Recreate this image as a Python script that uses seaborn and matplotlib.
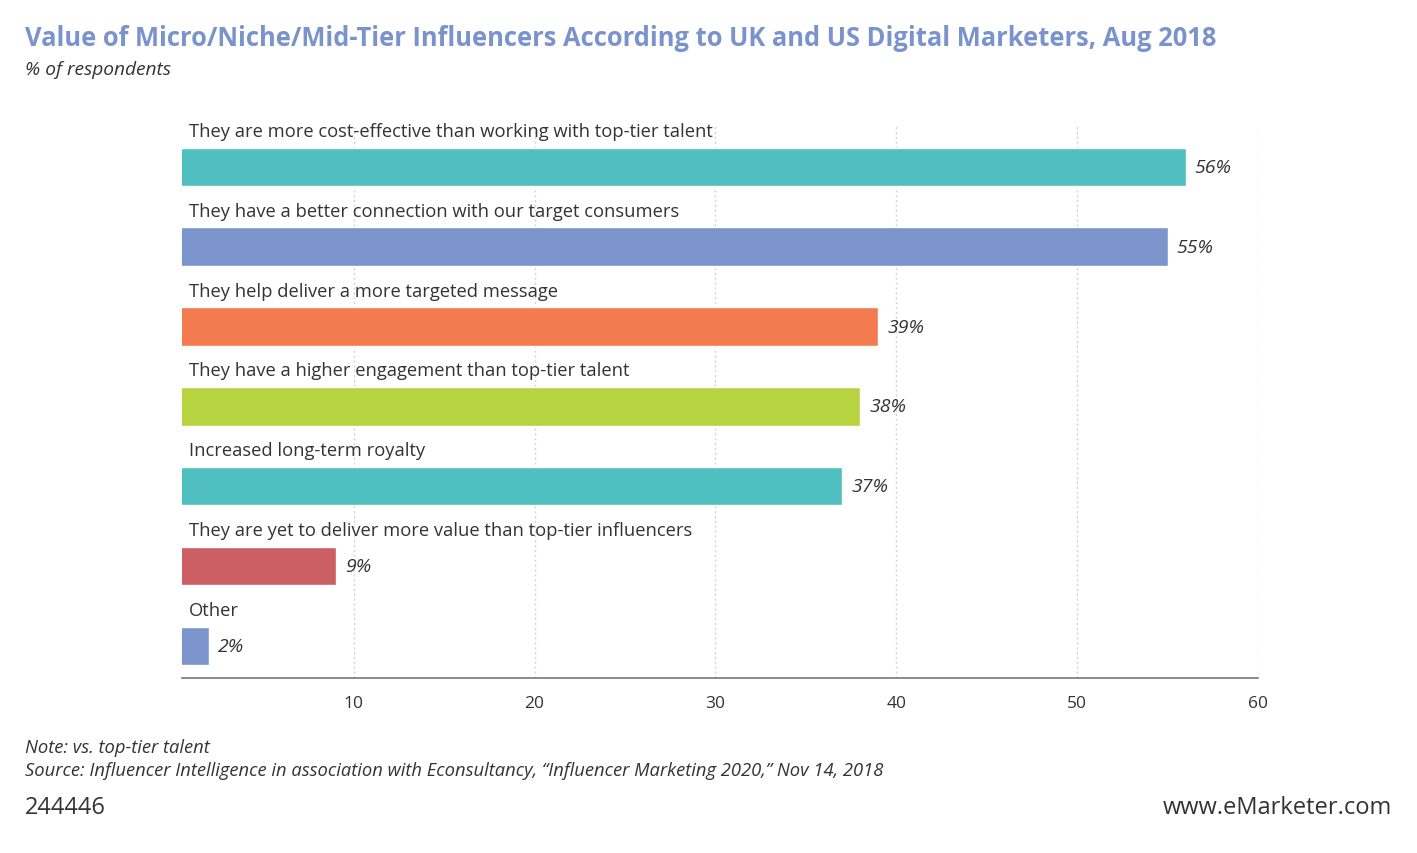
import matplotlib
matplotlib.use("Agg")
import matplotlib.pyplot as plt
import seaborn as sns
import pandas as pd

# data
categories = [
    "They are more cost-effective than working with top-tier talent",
    "They have a better connection with our target consumers",
    "They help deliver a more targeted message",
    "They have a higher engagement than top-tier talent",
    "Increased long-term royalty",
    "They are yet to deliver more value than top-tier influencers",
    "Other",
]
values = [56, 55, 39, 38, 37, 9, 2]
bar_colors = ["#4fbfbf", "#7b95cc", "#f47b50", "#b8d340", "#4fbfbf", "#cc5f64", "#7b95cc"]
x_ticks = [10, 20, 30, 40, 50, 60]

sns.set_style("white")
plt.rcParams["font.family"] = ["Open Sans", "DejaVu Sans"]

df = pd.DataFrame({"label": categories, "value": values})

fig = plt.figure(figsize=(14.17, 8.54), dpi=100)
ax = fig.add_axes([0.1284, 0.2049, 0.7594, 0.6464])

sns.barplot(data=df, x="value", y="label", hue="label", palette=bar_colors,
            order=categories, hue_order=categories, width=0.48,
            legend=False, saturation=1, ax=ax)

ax.set_xlim(0.5, 60)
ax.set_ylim(6.40, -0.51)
ax.set_xticks(x_ticks)
ax.set_xticklabels([str(t) for t in x_ticks], fontsize=12.5, color="#333333")
ax.set_yticks([])
ax.tick_params(axis="x", length=0, pad=12)
ax.set_xlabel("")
ax.set_ylabel("")

# dotted vertical grid
for t in x_ticks:
    ax.axvline(t, color="#d4d4d4", linestyle=(0, (1.5, 2)), linewidth=1, zorder=0)

for s in ["top", "right", "left"]:
    ax.spines[s].set_visible(False)
ax.spines["bottom"].set_color("#777777")
ax.spines["bottom"].set_linewidth(1.2)

# category labels above bars and values at bar ends
for i, (cat, val) in enumerate(zip(categories, values)):
    ax.text(0.9, i - 0.45, cat, fontsize=13.25, color="#333333", va="center", ha="left")
    ax.text(val + 0.5, i, f"{val}%", fontsize=14, color="#333333", style="italic",
            va="center", ha="left")

fig.text(0.0176, 0.955, "Value of Micro/Niche/Mid-Tier Influencers According to UK and US Digital Marketers, Aug 2018",
         fontsize=18.4, fontweight="bold", color="#7b93cc", va="center", ha="left")
fig.text(0.0176, 0.918, "% of respondents", fontsize=13.8, style="italic", color="#333333",
         va="center", ha="left")

fig.text(0.0176, 0.124, "Note: vs. top-tier talent", fontsize=13.2, style="italic",
         color="#333333", va="center", ha="left")
fig.text(0.0176, 0.097, "Source: Influencer Intelligence in association with Econsultancy, \u201cInfluencer Marketing 2020,\u201d Nov 14, 2018",
         fontsize=13.2, style="italic", color="#333333", va="center", ha="left")
fig.text(0.0176, 0.054, "244446", fontsize=17, color="#333333", va="center", ha="left")
fig.text(0.982, 0.054, "www.eMarketer.com", fontsize=17, color="#333333", va="center", ha="right")

fig.savefig("out.png", dpi=100, facecolor="white")
